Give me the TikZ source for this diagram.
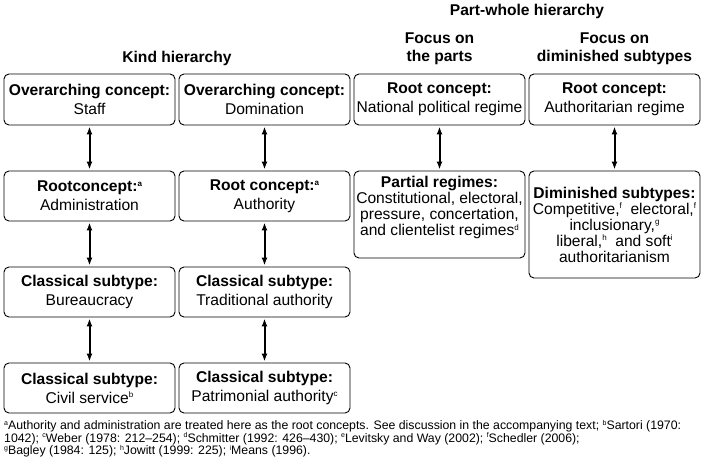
\documentclass[tikz,border=0pt]{standalone}
\usepackage{fontspec}
\setmainfont{Liberation Sans}
\usepackage{tikz}
\usetikzlibrary{positioning,arrows.meta}

% small raised letters for the notes
\newcommand{\sups}[1]{\raisebox{0.62ex}{\fontsize{8}{8}\selectfont #1}}
\newcommand{\fsup}[1]{\raisebox{0.7ex}{\fontsize{7}{7}\selectfont #1}}

\tikzset{
    box/.style={draw, rounded corners=5pt, line width=0.9pt, minimum width=171pt, inner xsep=1pt, inner ysep=3pt, align=center, font=\fontsize{15.6}{16}\selectfont},
    heading/.style={align=center, inner sep=0pt, font=\bfseries\fontsize{15.6}{18}\selectfont},
    link/.style={{Latex[length=8pt,width=6pt]}-{Latex[length=8pt,width=6pt]}, line width=2pt, shorten >=1pt, shorten <=1pt}
}

\begin{document}
\begin{tikzpicture}[x=1pt,y=-1pt]
    % Fix the page size
    \useasboundingbox (0,0) rectangle (705,466);

    % Draw headings
    \node[heading,anchor=base] (kind) at (177,62.5) {Kind hierarchy};
    \node[heading,anchor=base] (partwhole) at (527,15.5) {Part-whole hierarchy};
    \node[heading] (parts) at (439.5,48.3) {Focus on\\the parts};
    \node[heading] (diminished) at (614.5,48.3) {Focus on\\diminished subtypes};

    % Draw first column
    \node[box,minimum height=51pt] (staff) at (89.5,99.5) {\textbf{Overarching concept:}\\[3pt]Staff};
    \node[box,minimum height=50pt] (admin) at (89.5,196) {\textbf{Rootconcept:\sups{a}}\\[3pt]Administration};
    \node[box,minimum height=50pt] (bureau) at (89.5,292) {\textbf{Classical subtype:}\\[3pt]Bureaucracy};
    \node[box,minimum height=50pt] (civil) at (89.5,388) {\textbf{Classical subtype:}\\[3pt]Civil service\sups{b}};

    % Draw second column
    \node[box,minimum height=51pt] (domination) at (264.5,99.5) {\textbf{Overarching concept:}\\[3pt]Domination};
    \node[box,minimum height=50pt] (authority) at (264.5,196) {\textbf{Root concept:\sups{a}}\\[3pt]Authority};
    \node[box,minimum height=50pt] (traditional) at (264.5,292) {\textbf{Classical subtype:}\\[3pt]Traditional authority};
    \node[box,minimum height=50pt] (patrimonial) at (264.5,388) {\textbf{Classical subtype:}\\[3pt]Patrimonial authority\sups{c}};

    % Draw third column
    \node[box,minimum height=51pt] (national) at (439.5,99.5) {\textbf{Root concept:}\\[3pt]National political regime};
    \node[box,minimum height=87pt] (partial) at (439.5,214.5) {\textbf{Partial regimes:}\\Constitutional, electoral,\\pressure, concertation,\\and clientelist regimes\sups{d}\\[1pt]\mbox{}};

    % Draw fourth column
    \node[box,minimum height=51pt] (authoritarian) at (614.5,99.5) {\textbf{Root concept:}\\[3pt]Authoritarian regime};
    \node[box,minimum height=107pt] (subtypes) at (614.5,224.5) {\textbf{Diminished subtypes:}\\Competitive,\sups{f}\ \ electoral,\sups{f}\\inclusionary,\sups{g}\\liberal,\sups{h}\ \ and soft\sups{i}\\authoritarianism};

    % Draw arrows
    \draw[link] (staff) -- (admin);
    \draw[link] (admin) -- (bureau);
    \draw[link] (bureau) -- (civil);
    \draw[link] (domination) -- (authority);
    \draw[link] (authority) -- (traditional);
    \draw[link] (traditional) -- (patrimonial);
    \draw[link] (national) -- (partial);
    \draw[link] (authoritarian) -- (subtypes);

    % Draw notes
    \node[anchor=north west,inner sep=0pt,align=left,font=\fontsize{12.3}{12.5}\selectfont] (notes) at (4,420)
        {\fsup{a}Authority and administration are treated here as the root concepts. See discussion in the accompanying text; \fsup{b}Sartori (1970:\\
        1042); \fsup{c}Weber (1978: 212--254); \fsup{d}Schmitter (1992: 426--430); \fsup{e}Levitsky and Way (2002); \fsup{f}Schedler (2006);\\
        \fsup{g}Bagley (1984: 125); \fsup{h}Jowitt (1999: 225); \fsup{i}Means (1996).};
\end{tikzpicture}
\end{document}
